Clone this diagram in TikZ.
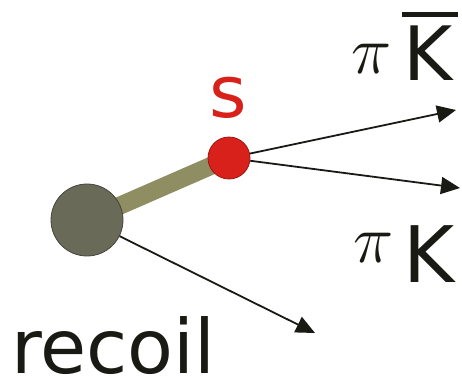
\documentclass[tikz,border=0pt]{standalone}
\usepackage{fix-cm}
\usepackage{fontspec}
\setmainfont{DejaVu Sans}
\usetikzlibrary{arrows.meta,backgrounds}
\definecolor{recoilgray}{HTML}{6A6A59}
\definecolor{recoiledge}{HTML}{45453A}
\definecolor{sred}{HTML}{D8211A}
\definecolor{sedge}{HTML}{9A1812}
\definecolor{barolive}{HTML}{8F8E62}
\definecolor{ink}{HTML}{1A1A14}
\tikzset{
  ball/.style={circle,inner sep=0pt,line width=0.8pt},
  arr/.style={draw=ink,line width=1.8pt,-{Triangle[length=19pt,width=17pt]}},
  lbl/.style={inner sep=0pt,anchor=base west,text=ink,text depth=0pt},
}
\begin{document}
\begin{tikzpicture}[x=1pt,y=-1pt]
\useasboundingbox (0,0) rectangle (462,378);
\node[ball,fill=recoilgray,draw=recoiledge,minimum size=72pt] (R) at (87,220) {};
\node[ball,fill=sred,draw=sedge,minimum size=42pt] (S) at (229,158) {};
\begin{scope}[on background layer]
\draw[barolive,line width=18pt] (R.center) -- (S.center);
\end{scope}
\coordinate (t1) at (456,110);
\coordinate (t2) at (460,188);
\coordinate (t3) at (315,333);
\draw[arr] (S) -- (t1);
\draw[arr] (S) -- (t2);
\draw[arr] (R) -- (t3);
\node[inner sep=0pt,anchor=base,text=sred,text depth=0pt,font=\fontsize{72}{72}\selectfont] (s) at (228.5,117) {s};
\node[lbl,font=\fontsize{75}{75}\selectfont] (rec) at (11,373) {recoil};
\node[lbl,font=\fontsize{68}{68}\selectfont] (pi1) at (351,73) {$\pi$};
\node[lbl,font=\fontsize{75}{75}\selectfont] (K1) at (403,80) {\rlap{\hspace{-1pt}\rule[63pt]{56pt}{5pt}}K};
\node[lbl,font=\fontsize{68}{68}\selectfont] (pi2) at (353,262) {$\pi$};
\node[lbl,font=\fontsize{78}{78}\selectfont] (K2) at (403,282) {K};
\end{tikzpicture}
\end{document}
